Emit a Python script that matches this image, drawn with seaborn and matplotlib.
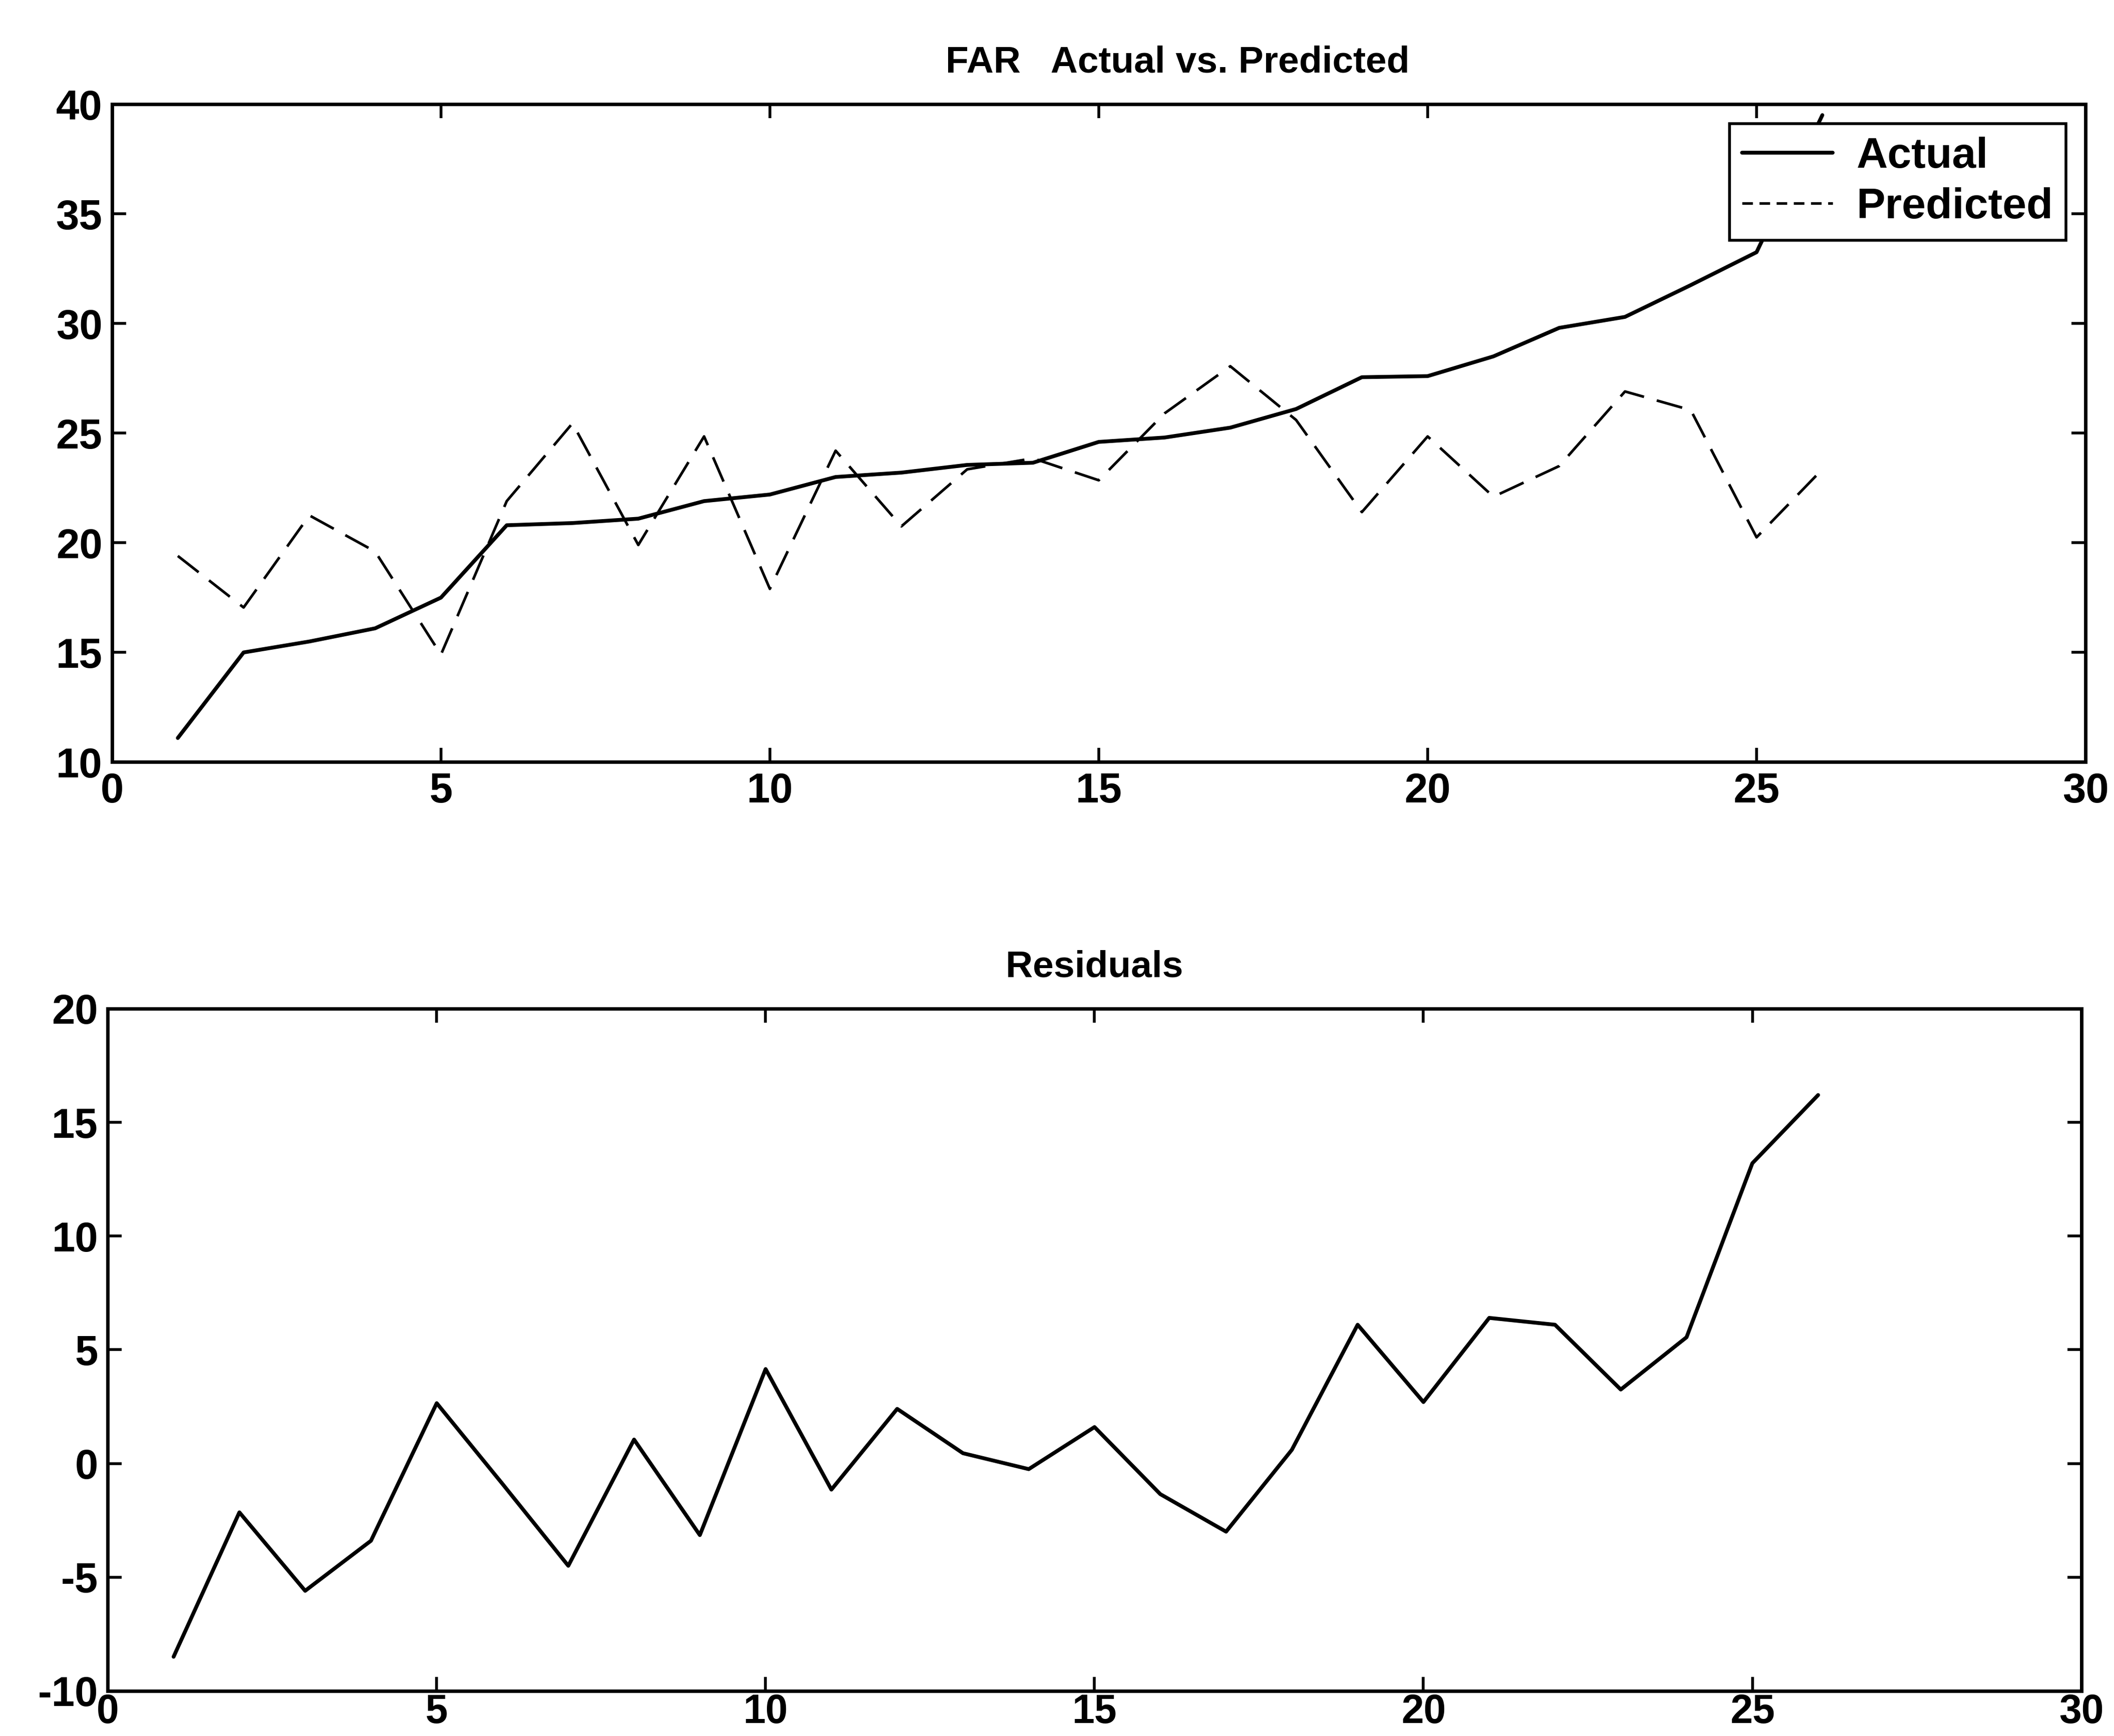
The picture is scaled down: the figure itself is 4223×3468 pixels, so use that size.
import matplotlib
matplotlib.use('Agg')
import matplotlib.pyplot as plt
import seaborn as sns
import pandas as pd

# ── Data ──────────────────────────────────────────────────────────────────────
obs = list(range(1, 27))
actual = [11.1, 15.0, 15.5, 16.1, 17.5, 20.8, 20.9, 21.1, 21.9, 22.2,
          23.0, 23.2, 23.55, 23.65, 24.6, 24.8, 25.25, 26.1, 27.55, 27.6,
          28.5, 29.8, 30.3, 31.75, 33.25, 39.5]
predicted = [19.4, 17.05, 21.25, 19.6, 14.9, 21.9, 25.45, 19.9, 24.85, 17.9,
             24.2, 20.75, 23.35, 23.85, 22.85, 25.9, 28.05, 25.6, 21.4, 24.85,
             22.1, 23.5, 26.9, 26.05, 20.25, 23.35]
residuals = [-8.5, -2.15, -5.6, -3.4, 2.65, -0.9, -4.5, 1.05, -3.15, 4.15,
             -1.15, 2.4, 0.45, -0.25, 1.6, -1.35, -3.0, 0.6, 6.1, 2.7,
             6.4, 6.1, 3.25, 5.55, 13.2, 16.2]
x_ticks = [0, 5, 10, 15, 20, 25, 30]
top_yticks = [10, 15, 20, 25, 30, 35, 40]
bot_yticks = [-10, -5, 0, 5, 10, 15, 20]

df = pd.DataFrame({'obs': obs, 'Actual': actual, 'Predicted': predicted,
                   'Residual': residuals})

# ── Style ─────────────────────────────────────────────────────────────────────
sns.set_style('ticks')
plt.rcParams['font.family'] = ['Liberation Sans', 'DejaVu Sans']
plt.rcParams['axes.linewidth'] = 5
plt.rcParams['axes.unicode_minus'] = False
for key in ('text.color', 'xtick.color', 'ytick.color', 'axes.labelcolor',
            'axes.edgecolor'):
    plt.rcParams[key] = 'black'

fig = plt.figure(figsize=(42.23, 34.68), dpi=100)
ax1 = fig.add_axes([0.053, 0.561, 0.9335, 0.379])
ax2 = fig.add_axes([0.051, 0.026, 0.9335, 0.393])

# ── Top: actual vs predicted ──────────────────────────────────────────────────
sns.lineplot(data=df, x='obs', y='Actual', ax=ax1, color='black',
             linewidth=5.5, label='Actual')
sns.lineplot(data=df, x='obs', y='Predicted', ax=ax1, color='black',
             linewidth=3.8, dashes=False, label='Predicted')
ax1.lines[1].set_dashes((10, 5))
ax1.set_xlim(0, 30)
ax1.set_ylim(10, 40)
ax1.set_yticks(top_yticks)
ax1.set_title('FAR   Actual vs. Predicted', fontsize=54, fontweight='bold',
              pad=46, x=0.54)

leg = ax1.legend(loc='upper right', frameon=True, fancybox=False,
                 framealpha=1, edgecolor='black', handlelength=2.1,
                 handletextpad=0.55, labelspacing=0.25, borderpad=0.3,
                 borderaxespad=0.45, prop={'size': 62, 'weight': 'bold'})
leg.get_frame().set_linewidth(4)
leg.get_lines()[1].set_dashes((4, 2.5))

# ── Bottom: residuals ─────────────────────────────────────────────────────────
sns.lineplot(data=df, x='obs', y='Residual', ax=ax2, color='black',
             linewidth=5.5)
ax2.set_xlim(0, 30)
ax2.set_ylim(-10, 20)
ax2.set_yticks(bot_yticks)
ax2.set_title('Residuals', fontsize=54, fontweight='bold', pad=46)

for ax in (ax1, ax2):
    ax.set_xticks(x_ticks)
    ax.set_xlabel('')
    ax.set_ylabel('')
    ax.tick_params(direction='in', length=20, width=4, top=True, right=True,
                   labelsize=60, pad=14, colors='black')
    for lab in ax.get_xticklabels() + ax.get_yticklabels():
        lab.set_fontweight('bold')
    for s in ax.spines.values():
        s.set_visible(True)
        s.set_color('black')

ax2.tick_params(axis='x', pad=4, labelsize=58)

fig.savefig('out.png', dpi=100, facecolor='white')
